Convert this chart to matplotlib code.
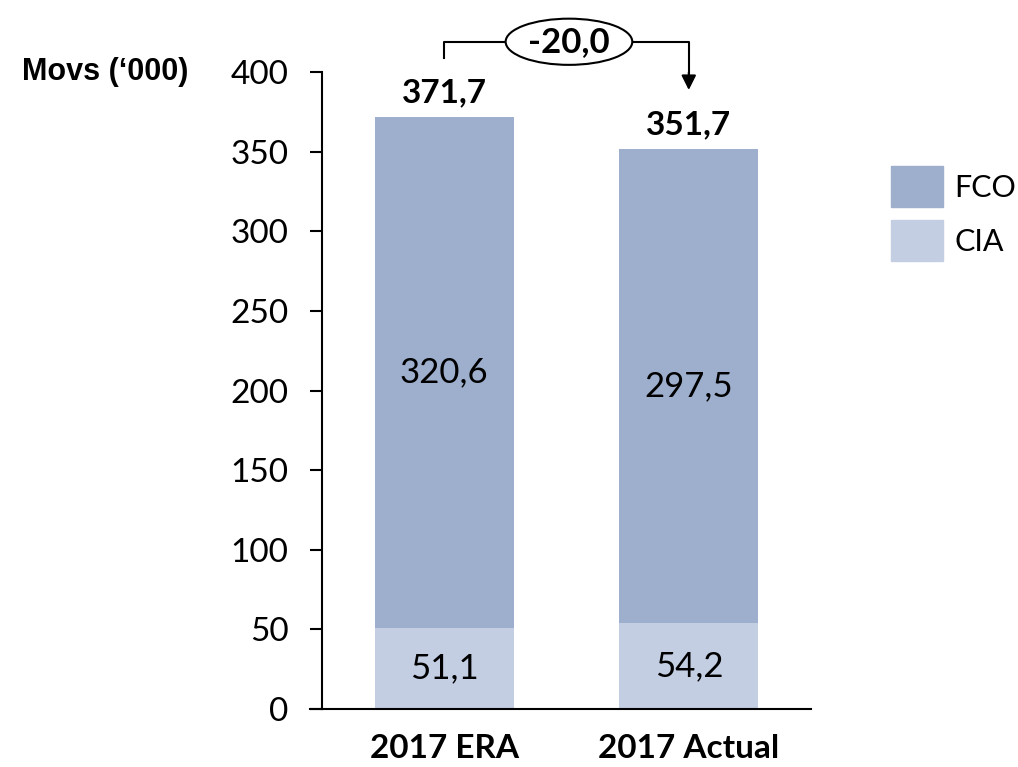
import matplotlib.pyplot as plt
from matplotlib.patches import Ellipse, Patch

categories = ["2017 ERA", "2017 Actual"]
cia = [51.1, 54.2]
fco = [320.6, 297.5]
totals = [371.7, 351.7]
delta = -20.0

def fmt(v):
    return f"{v:.1f}".replace(".", ",")

col_fco = "#9DAFCD"
col_cia = "#C3CEE2"
num_font = "Lato"

fig = plt.figure(figsize=(10.18, 7.67), dpi=100)
ax = fig.add_axes([0.3163, 0.0756, 0.4804, 0.8305])

x = range(len(categories))
ax.bar(x, cia, width=0.567, color=col_cia, zorder=2)
ax.bar(x, fco, width=0.567, bottom=cia, color=col_fco, zorder=2)

ax.set_xlim(-0.5, 1.5)
ax.set_ylim(0, 400)
ax.set_yticks(range(0, 401, 50))
ax.set_xticks(list(x))
ax.set_xticklabels(categories, fontsize=24, fontweight="bold", family=num_font)
ax.tick_params(axis="x", length=0, pad=18)
ax.tick_params(axis="y", length=9, width=1.5, labelsize=24, pad=15)
for lab in ax.get_yticklabels():
    lab.set_family(num_font)
for s in ["top", "right"]:
    ax.spines[s].set_visible(False)
ax.spines["left"].set_linewidth(1.5)
ax.spines["bottom"].set_linewidth(1.5)
ax.spines["bottom"].set_bounds(-0.5, 1.5)
# stub of the baseline running left past the y axis
ax.plot([-0.55, -0.5], [0, 0], color="black", lw=1.5, clip_on=False)

# segment and total labels
for i in x:
    ax.text(i, cia[i] / 2, fmt(cia[i]), ha="center", va="center",
            fontsize=25, family=num_font, zorder=3)
    ax.text(i, cia[i] + fco[i] / 2, fmt(fco[i]), ha="center", va="center",
            fontsize=25, family=num_font, zorder=3)
    ax.text(i, totals[i] + 15, fmt(totals[i]), ha="center", va="center",
            fontsize=24, fontweight="bold", family=num_font)

# bracket with the change between the two totals
y_top = 419
ax.plot([0, 0, 1, 1], [totals[0] + 37, y_top, y_top, totals[1] + 47],
        color="black", lw=1.5, clip_on=False)
ax.annotate("", xy=(1, totals[1] + 37), xytext=(1, totals[1] + 48),
            arrowprops=dict(arrowstyle="-|>", color="black", lw=1.5,
                            mutation_scale=22, shrinkA=0, shrinkB=0),
            annotation_clip=False)
ell = Ellipse((0.51, y_top), width=0.518, height=29, facecolor="white",
              edgecolor="black", lw=1.5, clip_on=False, zorder=4)
ax.add_patch(ell)
ax.text(0.51, y_top, fmt(delta), ha="center", va="center", fontsize=25,
        fontweight="bold", family=num_font, zorder=5)

fig.text(0.185, 0.906, "Movs (\u2018000)", ha="right", va="center",
         fontsize=22, fontweight="bold", family="Liberation Sans")

handles = [Patch(color=col_fco, label="FCO"), Patch(color=col_cia, label="CIA")]
leg = fig.legend(handles=handles, loc="upper left", bbox_to_anchor=(0.875, 0.783),
                 frameon=False, prop={"family": num_font, "size": 22},
                 handlelength=1.72, handleheight=1.65, labelspacing=0.45,
                 handletextpad=0.35, borderpad=0, borderaxespad=0)

fig.savefig("out.png", dpi=100)
